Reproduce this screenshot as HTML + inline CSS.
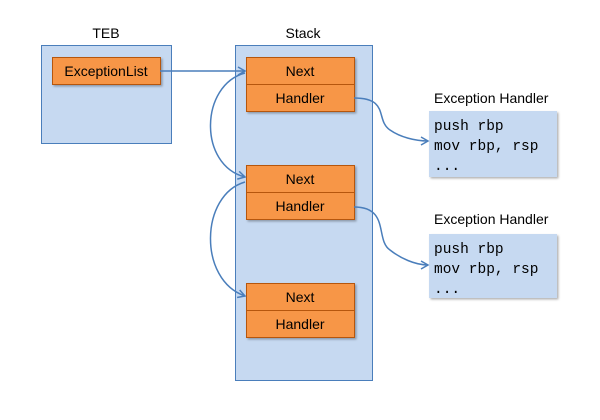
<!DOCTYPE html>
<html><head><style>
body{margin:0;background:#fff;width:600px;height:415px;overflow:hidden;font-family:"Liberation Sans",sans-serif;}
</style></head><body>
<svg width="600" height="415" xmlns="http://www.w3.org/2000/svg">
<defs>
<marker id="a" markerWidth="10" markerHeight="10" refX="8" refY="5" orient="auto" markerUnits="userSpaceOnUse">
<path d="M1,1 L8,5 L1,9" fill="none" stroke="#4a7ebb" stroke-width="1.5"/></marker>
<filter id="s"><feDropShadow dx="1.5" dy="1.5" stdDeviation="1" flood-color="#000" flood-opacity="0.3"/></filter>
</defs>
<g font-size="14" fill="#000" text-anchor="middle">
<text x="106" y="38">TEB</text>
<text x="303" y="38">Stack</text>
</g>
<rect x="41.5" y="45.5" width="130" height="98" fill="#c6d9f1" stroke="#4a7ebb"/>
<rect x="235.5" y="45.5" width="137" height="335" fill="#c6d9f1" stroke="#4a7ebb"/>
<g fill="#f79646" stroke="#b65708" filter="url(#s)">
<rect x="52.5" y="57.5" width="108" height="27"/>
<rect x="246.5" y="57.5" width="108" height="27"/><rect x="246.5" y="84.5" width="108" height="27"/>
<rect x="246.5" y="165.5" width="108" height="27"/><rect x="246.5" y="192.5" width="108" height="27"/>
<rect x="246.5" y="283.5" width="108" height="27"/><rect x="246.5" y="310.5" width="108" height="27"/>
</g>
<g font-size="14" text-anchor="middle" fill="#000">
<text x="106" y="76">ExceptionList</text>
<text x="300" y="76">Next</text><text x="300" y="103">Handler</text>
<text x="300" y="184">Next</text><text x="300" y="211">Handler</text>
<text x="300" y="302">Next</text><text x="300" y="329">Handler</text>
</g>
<g fill="#c6d9f1" filter="url(#s)">
<rect x="429" y="111" width="128" height="66"/>
<rect x="429" y="234" width="128" height="64"/>
</g>
<g font-size="14" fill="#000">
<text x="434" y="103">Exception Handler</text>
<text x="434" y="224">Exception Handler</text>
</g>
<g font-family="Liberation Mono, monospace" font-size="14.5" fill="#000">
<text x="434" y="130">push rbp</text><text x="434" y="150">mov rbp, rsp</text><text x="434" y="170">...</text>
<text x="434" y="253">push rbp</text><text x="434" y="273">mov rbp, rsp</text><text x="434" y="293">...</text>
</g>
<g fill="none" stroke="#4a7ebb" stroke-width="1.5" marker-end="url(#a)">
<path d="M160,71 L245,71"/>
<path d="M245,73 C200,85 198,165 245,177"/>
<path d="M245,182 C200,195 198,280 245,296"/>
<path d="M354,98 C390,98 375,120 390,130 C400,137 415,141 428,141"/>
<path d="M354,207 C390,207 375,240 390,250 C400,258 415,265 428,265"/>
</g>
</svg>
</body></html>
